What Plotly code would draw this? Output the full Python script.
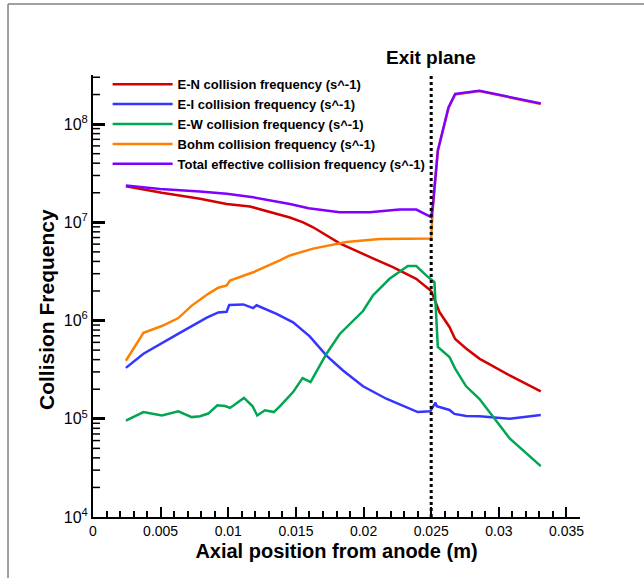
import math
import plotly.graph_objects as go

# ---------------- data ----------------
x_en = [0.00243, 0.00509, 0.00791, 0.00988, 0.0116, 0.0131, 0.01455, 0.01553, 0.01627, 0.01824,
        0.01971, 0.02069, 0.02217, 0.02389, 0.025, 0.02561, 0.02635, 0.02677, 0.02758, 0.02856,
        0.0308, 0.0331]
y_en = [2.33e7, 2.0e7, 1.74e7, 1.54e7, 1.45e7, 1.27e7, 1.12e7, 1.0e7, 8.9e6, 6.1e6,
        5.0e6, 4.3e6, 3.5e6, 2.66e6, 2.0e6, 1.22e6, 8.6e5, 6.5e5, 5.2e5, 4.1e5,
        2.76e5, 1.9e5]

x_ei = [0.00243, 0.00373, 0.00619, 0.00841, 0.00926, 0.00988, 0.01007, 0.01111, 0.01184, 0.01209,
        0.01357, 0.01479, 0.01602, 0.01726, 0.01848, 0.01996, 0.02168, 0.02316, 0.02401, 0.02493,
        0.02532, 0.02541, 0.02635, 0.02672, 0.02758, 0.02856, 0.0308, 0.0331]
y_ei = [3.3e5, 4.6e5, 7.2e5, 1.07e6, 1.21e6, 1.23e6, 1.44e6, 1.46e6, 1.34e6, 1.43e6,
        1.17e6, 9.6e5, 6.9e5, 4.4e5, 3.1e5, 2.14e5, 1.6e5, 1.3e5, 1.17e5, 1.19e5,
        1.46e5, 1.34e5, 1.23e5, 1.12e5, 1.07e5, 1.06e5, 1.0e5, 1.09e5]

x_ew = [0.00243, 0.00373, 0.00509, 0.00631, 0.0073, 0.00791, 0.00852, 0.00919, 0.00976, 0.01013,
        0.01116, 0.0118, 0.01214, 0.01271, 0.01337, 0.01381, 0.01479, 0.01549, 0.01608, 0.01726,
        0.01824, 0.01996, 0.02069, 0.02192, 0.02327, 0.02389, 0.02463, 0.02524, 0.02549, 0.02635,
        0.02677, 0.02758, 0.02856, 0.0308, 0.0331]
y_ew = [9.6e4, 1.17e5, 1.08e5, 1.19e5, 1.04e5, 1.06e5, 1.13e5, 1.37e5, 1.35e5, 1.29e5,
        1.63e5, 1.34e5, 1.08e5, 1.22e5, 1.17e5, 1.34e5, 1.87e5, 2.6e5, 2.36e5, 4.6e5,
        7.3e5, 1.25e6, 1.8e6, 2.66e6, 3.6e6, 3.6e6, 2.88e6, 2.46e6, 5.4e5, 4.25e5,
        3.24e5, 2.14e5, 1.6e5, 6.3e4, 3.3e4]

x_bohm = [0.00243, 0.00373, 0.00509, 0.00631, 0.0073, 0.00852, 0.00926, 0.00988, 0.01013, 0.01184,
          0.01381, 0.01455, 0.01627, 0.01873, 0.02119, 0.025, 0.02513, 0.02549, 0.02628, 0.02677,
          0.02856, 0.0331]
y_bohm = [3.9e5, 7.5e5, 8.8e5, 1.06e6, 1.42e6, 1.87e6, 2.16e6, 2.28e6, 2.56e6, 3.1e6,
          4.1e6, 4.6e6, 5.4e6, 6.3e6, 6.75e6, 6.84e6, 1.45e7, 5.3e7, 1.46e8, 2.0e8,
          2.17e8, 1.6e8]

x_tot = [0.00243, 0.00496, 0.00791, 0.00988, 0.01184, 0.01455, 0.01594, 0.01823, 0.02045, 0.02266,
         0.0239, 0.025, 0.02513, 0.02549, 0.02628, 0.02677, 0.02856, 0.0331]
y_tot = [2.37e7, 2.19e7, 2.06e7, 1.95e7, 1.80e7, 1.54e7, 1.39e7, 1.27e7, 1.27e7, 1.35e7,
         1.35e7, 1.13e7, 1.5e7, 5.4e7, 1.48e8, 2.03e8, 2.19e8, 1.62e8]

x_ticks = [0, 0.005, 0.01, 0.015, 0.02, 0.025, 0.03, 0.035]
x_ticklabels = ["0", "0.005", "0.01", "0.015", "0.02", "0.025", "0.03", "0.035"]
y_ticks = [1e4, 1e5, 1e6, 1e7, 1e8]
y_ticklabels = ["10<sup>4</sup>", "10<sup>5</sup>", "10<sup>6</sup>", "10<sup>7</sup>", "10<sup>8</sup>"]

EXIT_PLANE = 0.025

series = [
    ("E-N collision frequency (s^-1)", x_en, y_en, "#D40000"),
    ("E-I collision frequency (s^-1)", x_ei, y_ei, "#3535FF"),
    ("E-W collision frequency (s^-1)", x_ew, y_ew, "#00A651"),
    ("Bohm collision frequency (s^-1)", x_bohm, y_bohm, "#FF8000"),
    ("Total effective collision frequency (s^-1)", x_tot, y_tot, "#8000FF"),
]

Y_LOG_RANGE = [4, 8.5]
# minor log ticks 2..9 per decade (within the axis range)
y_minor = [m * 10 ** e for e in range(4, 9) for m in range(2, 10)
           if math.log10(m * 10 ** e) <= Y_LOG_RANGE[1]]

FONT = "Liberation Sans, Arial, sans-serif"

fig = go.Figure()

for name, xs, ys, col in series:
    fig.add_trace(go.Scatter(x=xs, y=ys, mode="lines", name=name,
                             line=dict(color=col, width=2.5)))

# minor y ticks drawn as short inside tick marks (shape coords are data values on log axes)
for v in y_minor:
    fig.add_shape(type="line", xref="x domain", yref="y", x0=0, x1=0.0145, y0=v, y1=v,
                  line=dict(color="black", width=1.5), layer="above")

fig.add_shape(type="line", xref="x", yref="paper", x0=EXIT_PLANE, x1=EXIT_PLANE, y0=0, y1=1,
              line=dict(color="black", width=3, dash="dot"))

fig.add_annotation(x=EXIT_PLANE, xref="x", y=1.04, yref="paper", text="<b>Exit plane</b>",
                   showarrow=False, font=dict(size=19, family=FONT, color="black"),
                   xanchor="center", yanchor="middle")

# y axis title
fig.add_annotation(x=-0.095, xref="paper", y=0.47, yref="paper", text="<b>Collision Frequency</b>",
                   showarrow=False, textangle=-90, font=dict(size=21, family=FONT, color="black"),
                   xanchor="center", yanchor="middle")

# page frame (top and left grey lines)
fig.add_shape(type="line", xref="paper", yref="paper", x0=-0.1745, x1=1.2, y0=1.1606, y1=1.1606,
              line=dict(color="#808080", width=1.5))
fig.add_shape(type="line", xref="paper", yref="paper", x0=-0.1745, x1=-0.1745, y0=-0.2, y1=1.1606,
              line=dict(color="#808080", width=1.5))

axis_common = dict(showgrid=False, zeroline=False)

fig.update_layout(
    width=644, height=578,
    margin=dict(l=93, r=64, t=75, b=61),
    paper_bgcolor="white", plot_bgcolor="white",
    font=dict(family=FONT, color="black"),
    showlegend=True,
    legend=dict(x=0.03, y=1.013, xanchor="left", yanchor="top",
                bgcolor="rgba(0,0,0,0)", borderwidth=0,
                font=dict(size=13, family=FONT, color="black", weight="bold"),
                itemwidth=60, tracegroupgap=0),
    xaxis=dict(range=[0, 0.036], tickvals=x_ticks, ticktext=x_ticklabels,
               ticks="inside", ticklen=10, tickwidth=2, tickcolor="black",
               showline=True, linecolor="black", linewidth=2, **axis_common,
               tickfont=dict(size=14),
               minor=dict(dtick=0.001, tick0=0, ticks="inside", ticklen=6, tickwidth=1.5,
                          tickcolor="black", showgrid=False),
               title=dict(text="<b>Axial position from anode (m)</b>", font=dict(size=20),
                          standoff=6)),
    yaxis=dict(type="log", range=Y_LOG_RANGE, tickmode="array", tickvals=y_ticks,
               ticktext=y_ticklabels,
               ticks="inside", ticklen=12, tickwidth=2.5, tickcolor="black",
               showline=True, linecolor="black", linewidth=2, **axis_common,
               tickfont=dict(size=16)),
)

fig.write_html("out.html")
